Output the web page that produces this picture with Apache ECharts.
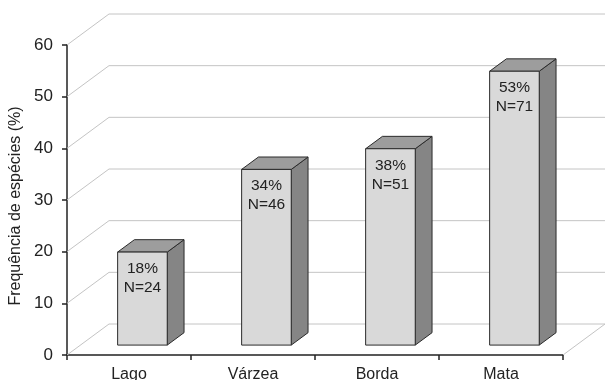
<!DOCTYPE html>
<html>
<head>
<meta charset="utf-8">
<script src="https://cdn.jsdelivr.net/npm/echarts@6/dist/echarts.min.js"></script>
<style>html,body{margin:0;padding:0;background:#fff}#c{width:606px;height:380px}</style>
</head>
<body>
<div id="c"></div>
<script>
var categories = ['Lago', 'Várzea', 'Borda', 'Mata'];
var percentValues = [18, 34, 38, 53];
var nValues = [24, 46, 51, 71];
var yTicks = [0, 10, 20, 30, 40, 50, 60];
var yTitle = 'Frequência de espécies (%)';

var FONT = '"Liberation Sans", Arial, sans-serif';
var DX = 42, DY = -31;          // wall depth in pixels
var F0 = 0.32, F1 = 0.72;       // bar front/back depth fractions
var BAR = 0.4;                  // bar width fraction of band

var chart = echarts.init(document.getElementById('c'), null, {renderer: 'canvas'});

function wallItem(params, api) {
  var v = api.value(0);
  var n = categories.length;
  var bw = api.size([1, 0])[0];
  var p0 = api.coord([0, v]);
  var pN = api.coord([n - 1, v]);
  var x0 = p0[0] - bw / 2, xE = pN[0] + bw / 2, y = p0[1];
  var style = {stroke: '#c4c4c4', lineWidth: 1, fill: null};
  var children = [{
    type: 'polyline',
    shape: {points: [[x0, y], [x0 + DX, y + DY], [xE + DX, y + DY]]},
    style: style
  }];
  if (v === 0) {
    children.push({type: 'line', shape: {x1: xE, y1: y, x2: xE + DX, y2: y + DY}, style: style});
  }
  return {type: 'group', children: children};
}

function barItem(params, api) {
  var i = api.value(0), v = api.value(1);
  var bw = api.size([1, 0])[0];
  var top = api.coord([i, v]);
  var base = api.coord([i, 0]);
  var w = bw * BAR;
  var fx = top[0] - w / 2 + DX * F0, fy = DY * F0;
  var bx = DX * (F1 - F0), by = DY * (F1 - F0);
  var L = fx, R = fx + w, T = top[1] + fy, B = base[1] + fy;
  var stroke = '#2b2b2b';
  return {
    type: 'group',
    children: [
      {type: 'polygon', shape: {points: [[R, T], [R + bx, T + by], [R + bx, B + by], [R, B]]},
       style: {fill: '#858585', stroke: stroke, lineWidth: 1}},
      {type: 'polygon', shape: {points: [[L, T], [L + bx, T + by], [R + bx, T + by], [R, T]]},
       style: {fill: '#9d9d9d', stroke: stroke, lineWidth: 1}},
      {type: 'rect', shape: {x: L, y: T, width: w, height: B - T},
       style: {fill: '#d9d9d9', stroke: stroke, lineWidth: 1}},
      {type: 'text', x: (L + R) / 2, y: T + 7,
       style: {text: percentValues[i] + '%\nN=' + nValues[i], fill: '#222', font: '15.5px ' + FONT,
               align: 'center', verticalAlign: 'top', lineHeight: 19}}
    ]
  };
}

chart.setOption({
  animation: false,
  backgroundColor: '#fff',
  grid: {left: 67, right: 43, top: 45, bottom: 25, containLabel: false, outerBoundsMode: 'none'},
  xAxis: {
    type: 'category', data: categories,
    axisLine: {lineStyle: {color: '#222', width: 1.5}},
    axisTick: {show: true, length: 5, lineStyle: {color: '#222', width: 1.5}},
    axisLabel: {color: '#222', fontSize: 16, fontFamily: FONT, margin: 12}
  },
  yAxis: {
    type: 'value', min: 0, max: 60, interval: 10,
    axisLine: {show: true, lineStyle: {color: '#222', width: 1.5}},
    axisTick: {show: true, length: 5, lineStyle: {color: '#222', width: 1.5}},
    axisLabel: {color: '#222', fontSize: 17, fontFamily: FONT, margin: 14},
    splitLine: {show: false}
  },
  graphic: [{
    type: 'text', x: 16, y: 206, rotation: Math.PI / 2,
    style: {text: yTitle, fill: '#222', font: '16px ' + FONT, align: 'center', verticalAlign: 'middle'}
  }],
  series: [
    {type: 'custom', renderItem: wallItem, data: yTicks.map(function (t) { return [t]; }),
     encode: {y: 0}, z: 1, silent: true},
    {type: 'custom', renderItem: barItem,
     data: percentValues.map(function (v, i) { return [i, v]; }),
     encode: {x: 0, y: 1}, z: 5, silent: true}
  ]
});
</script>
</body>
</html>
